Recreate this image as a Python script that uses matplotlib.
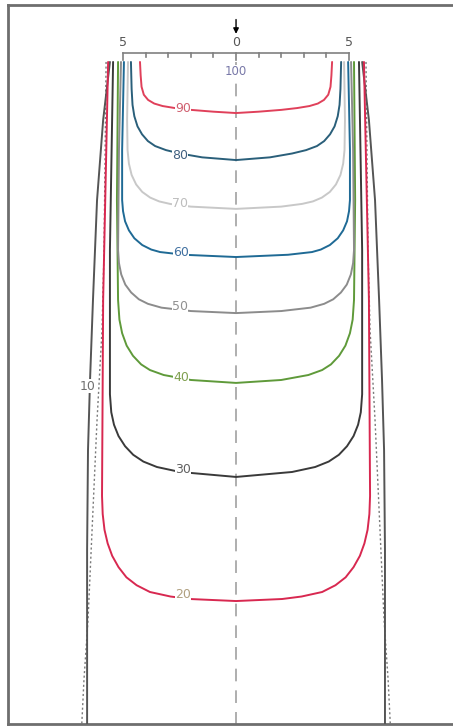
"""Isodose curves of a single beam, read off the reference picture.

Lateral offset from the beam axis [cm] and depth [cm] per isodose level,
left half of each curve; the right half is drawn with the same offsets.
"""
import matplotlib
matplotlib.use("Agg")
import matplotlib.pyplot as plt

# --- data (cm) ---
levels = [90, 80, 70, 60, 50, 40, 30, 20, 10]

off_90 = [4.25, 4.22, 4.18, 4.08, 3.89, 3.62, 3.25, 2.70, 2.0, 1.0, 0.0]
dep_90 = [0.0, 0.6, 1.1, 1.45, 1.68, 1.84, 1.95, 2.04, 2.12, 2.2, 2.26]

off_80 = [4.65, 4.62, 4.58, 4.50, 4.36, 4.16, 3.9, 3.58, 3.1, 2.48, 1.5, 0.0]
dep_80 = [0.0, 1.2, 1.9, 2.4, 2.85, 3.2, 3.5, 3.72, 3.9, 4.05, 4.22, 4.34]

off_70 = [4.78, 4.82, 4.80, 4.74, 4.62, 4.42, 4.15, 3.8, 3.4, 2.92, 2.0, 0.0]
dep_70 = [0.0, 2.57, 3.9, 4.5, 5.0, 5.42, 5.75, 6.0, 6.17, 6.28, 6.4, 6.50]

off_60 = [4.96, 5.04, 5.04, 5.0, 4.91, 4.74, 4.5, 4.15, 3.75, 3.36, 2.3, 0.0]
dep_60 = [0.0, 3.89, 6.11, 6.6, 7.05, 7.45, 7.8, 8.1, 8.3, 8.41, 8.53, 8.63]

off_50 = [5.09, 5.18, 5.22, 5.18, 5.08, 4.9, 4.64, 4.3, 3.9, 3.3, 2.0, 0.0]
dep_50 = [0.0, 3.89, 8.32, 8.9, 9.4, 9.85, 10.2, 10.5, 10.7, 10.87, 11.02, 11.11]

off_40 = [5.22, 5.27, 5.22, 5.16, 5.04, 4.84, 4.56, 4.2, 3.81, 3.2, 2.0, 0.0]
dep_40 = [0.0, 6.11, 10.53, 11.4, 12.0, 12.55, 13.0, 13.38, 13.63, 13.85, 14.07, 14.20]

off_30 = [5.44, 5.58, 5.58, 5.52, 5.40, 5.2, 4.91, 4.55, 4.1, 3.5, 2.48, 0.0]
dep_30 = [0.0, 8.32, 14.7, 15.5, 16.05, 16.55, 17.0, 17.38, 17.68, 17.92, 18.14, 18.36]

off_20 = [5.66, 5.88, 5.93, 5.9, 5.82, 5.68, 5.48, 5.2, 4.85, 4.4, 3.81, 2.9, 2.04, 0.0]
dep_20 = [0.0, 10.53, 19.2, 20.0, 20.7, 21.3, 21.85, 22.35, 22.8, 23.15, 23.45, 23.65,
          23.76, 23.85]

# 10 % line runs out through the bottom of the frame
off_10 = [5.58, 5.88, 6.15, 6.33, 6.46, 6.55, 6.59, 6.59]
dep_10 = [0.0, 2.57, 6.11, 10.53, 14.07, 17.17, 21.59, 30.0]

# dotted outline (field edge)
off_dot = [5.75, 5.84, 5.93, 6.15, 6.37, 6.55, 6.73, 6.86]
dep_dot = [0.0, 8.32, 11.86, 15.84, 20.71, 24.69, 27.35, 30.0]

# inline label positions (x, depth)
label_x = [-2.35, -2.48, -2.48, -2.43, -2.48, -2.43, -2.35, -2.35, -6.55]
label_d = [2.04, 4.12, 6.24, 8.41, 10.84, 13.98, 18.01, 23.54, 14.34]

ruler_ticks = [-5, -4, -3, -2, -1, 0, 1, 2, 3, 4, 5]
ruler_labels = {-5: "5", 0: "0", 5: "5"}

# --- style ---
line_colors = ["#e0405a", "#2a5f7a", "#c8c8c8", "#1f6a95", "#8c8c8c",
               "#5f9a3a", "#3a3a3a", "#d82850", "#555555"]
label_colors = ["#d06070", "#406080", "#bdbdbd", "#4070a0", "#909090",
                "#80a050", "#606060", "#b0a080", "#707070"]

curves = [(off_90, dep_90), (off_80, dep_80), (off_70, dep_70),
          (off_60, dep_60), (off_50, dep_50), (off_40, dep_40),
          (off_30, dep_30), (off_20, dep_20), (off_10, dep_10)]

fig = plt.figure(figsize=(4.53, 7.26), dpi=100)
ax = fig.add_axes([8 / 453, 2 / 726, 1 - 8 / 453, 719 / 726])
ax.set_xlim(-10.09, 9.6)
ax.set_ylim(29.29, -2.52)
ax.set_xticks([])
ax.set_yticks([])
for side in ("left", "top", "bottom"):
    ax.spines[side].set_color("#6e6e6e")
    ax.spines[side].set_linewidth(2.0)
ax.spines["right"].set_visible(False)

# beam axis
ax.plot([0, 0], [0.0, 30.0], color="#a8a8a8", lw=1.3, ls=(0, (7, 5)), zorder=1)

# field-edge dotted outline
ax.plot([-o for o in off_dot], dep_dot, color="#7a7a7a", lw=1.0,
        ls=(0, (1.5, 1.8)), zorder=2)
ax.plot(off_dot, dep_dot, color="#7a7a7a", lw=1.0, ls=(0, (1.5, 1.8)), zorder=2)

# isodose curves, drawn from the outside in
for (off, dep), col in reversed(list(zip(curves, line_colors))):
    left = [-o for o in off]
    right = list(reversed(off))
    xs = left + right
    ds = dep + list(reversed(dep))
    ax.plot(xs, ds, color=col, lw=1.4, zorder=3, solid_capstyle="round",
            solid_joinstyle="round")

for lev, x, d, col in zip(levels, label_x, label_d, label_colors):
    ax.text(x, d, str(lev), color=col, fontsize=9, ha="center", va="center",
            zorder=5, bbox=dict(facecolor="white", edgecolor="none", pad=0.3))

# top ruler
ruler_d = -0.40
ax.plot([ruler_ticks[0], ruler_ticks[-1]], [ruler_d, ruler_d],
        color="#808080", lw=1.2, zorder=4)
for t in ruler_ticks:
    tick_len = 0.30 if t in ruler_labels else 0.20
    ax.plot([t, t], [ruler_d, ruler_d + tick_len], color="#808080", lw=1.2, zorder=4)
for t, s in ruler_labels.items():
    ax.text(t, -0.85, s, color="#555555", fontsize=9, ha="center", va="center")

ax.text(0, 0.44, "100", color="#7878a8", fontsize=8.5, ha="center", va="center",
        zorder=5, bbox=dict(facecolor="white", edgecolor="none", pad=0.3))

# beam arrow
ax.annotate("", xy=(0, -1.12), xytext=(0, -2.0),
            arrowprops=dict(arrowstyle="-|>", color="black", lw=1.0,
                            mutation_scale=8))

fig.savefig("out.png", dpi=100)
